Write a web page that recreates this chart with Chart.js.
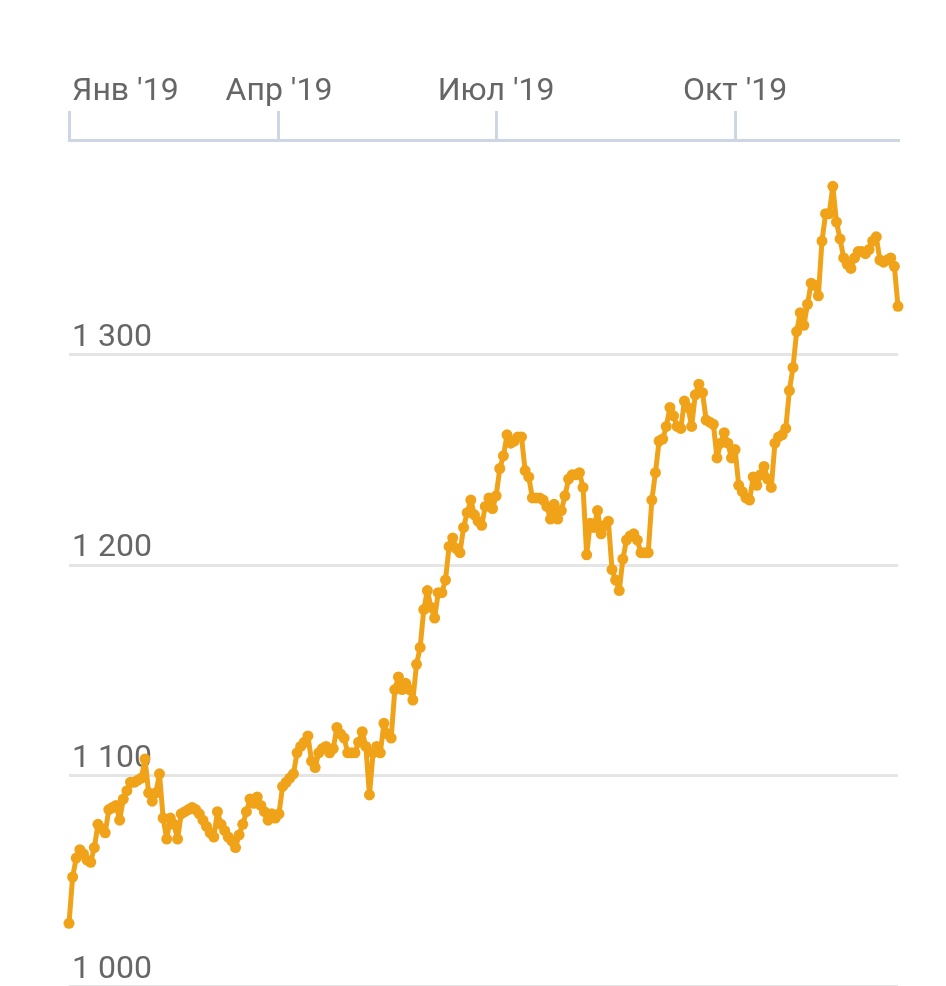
<!DOCTYPE html>
<html>
<head>
<meta charset="utf-8">
<script src="https://cdn.jsdelivr.net/npm/chart.js@4.4.1/dist/chart.umd.min.js"></script>
<style>
  html, body { margin: 0; padding: 0; background: #fff; overflow: hidden; }
  canvas { display: block; }
</style>
</head>
<body>
<canvas id="price-chart" width="946" height="992"></canvas>
<script>
// one value per trading day
const prices = [
  1030, 1052, 1061, 1065, 1063, 1060, 1059, 1066, 1077, 1075,
  1073, 1084, 1085, 1086, 1079, 1089, 1093, 1097, 1097, 1098,
  1099, 1108, 1092, 1088, 1092, 1101, 1080, 1070, 1080, 1077,
  1070, 1082, 1083, 1084, 1085, 1084, 1082, 1079, 1076, 1073,
  1071, 1083, 1077, 1074, 1071, 1069, 1066, 1072, 1077, 1083,
  1089, 1087, 1090, 1086, 1083, 1079, 1082, 1080, 1082, 1095,
  1097, 1099, 1101, 1111, 1114, 1116, 1119, 1107, 1104, 1111,
  1113, 1114, 1111, 1113, 1123, 1120, 1118, 1111, 1111, 1111,
  1116, 1121, 1114, 1091, 1111, 1114, 1111, 1125, 1120, 1118,
  1141, 1147, 1141, 1144, 1141, 1136, 1153, 1161, 1179, 1188,
  1180, 1175, 1187, 1187, 1193, 1209, 1213, 1208, 1206, 1218,
  1225, 1231, 1224, 1221, 1219, 1228, 1232, 1227, 1233, 1246,
  1252, 1262, 1258, 1259, 1261, 1261, 1245, 1242, 1232, 1232,
  1232, 1231, 1228, 1222, 1229, 1222, 1226, 1233, 1241, 1243,
  1243, 1244, 1237, 1205, 1220, 1218, 1226, 1215, 1219, 1221,
  1198, 1193, 1188, 1203, 1212, 1214, 1215, 1212, 1206, 1206,
  1206, 1231, 1244, 1259, 1260, 1266, 1275, 1271, 1266, 1265,
  1278, 1275, 1266, 1281, 1286, 1282, 1269, 1268, 1267, 1251,
  1258, 1263, 1258, 1251, 1255, 1238, 1235, 1232, 1231, 1242,
  1238, 1243, 1247, 1241, 1237, 1258, 1261, 1262, 1265, 1283,
  1294, 1311, 1320, 1314, 1324, 1334, 1333, 1328, 1354, 1367,
  1367, 1380, 1363, 1355, 1346, 1343, 1341, 1346, 1349, 1349,
  1348, 1350, 1354, 1356, 1345, 1344, 1345, 1346, 1342, 1323
];

// first trading day of each quarter (index into prices)
const monthIdx = [0, 58, 118, 184];
const monthLabels = ["Янв '19", "Апр '19", "Июл '19", "Окт '19"];

const yTicks = [1000, 1100, 1200, 1300];
const yMin = 1000, yMax = 1402;

const lineColor = '#f0a218';
const axisColor = '#cdd6e5';

function fmt(v){
  return String(v).replace(/\B(?=(\d{3})+(?!\d))/g, ' ');
}

// first month label sits to the right of its tick, not centred on it
const firstLabelLeft = {
  id: 'firstLabelLeft',
  beforeDraw(chart){
    const items = chart.scales.x.getLabelItems(chart.chartArea);
    if(items.length){
      items[0].options.textAlign = 'left';
      items[0].options.translation[0] += 3;
    }
  }
};

function init(){
  const ctx = document.getElementById('price-chart').getContext('2d');
  new Chart(ctx, {
    type: 'line',
    data: {
      datasets: [{
        data: prices.map((p, i) => ({x: i, y: p})),
        borderColor: lineColor,
        backgroundColor: lineColor,
        borderWidth: 5,
        borderJoinStyle: 'round',
        borderCapStyle: 'round',
        pointRadius: 5.5,
        pointBorderWidth: 0,
        pointHoverRadius: 5.5,
        tension: 0,
        clip: false
      }]
    },
    options: {
      responsive: false,
      animation: false,
      devicePixelRatio: 1,
      layout: {padding: {left: 63, right: 48, top: 72.6, bottom: 3}},
      plugins: {legend: {display: false}, tooltip: {enabled: false}},
      scales: {
        x: {
          type: 'linear',
          position: 'top',
          min: 0,
          max: prices.length - 1,
          afterBuildTicks: s => { s.ticks = monthIdx.map(v => ({value: v})); },
          afterFit: s => { s.paddingLeft = 0; s.paddingRight = 0; },
          grid: {drawOnChartArea: false, color: axisColor, lineWidth: 3, tickLength: 29},
          border: {color: axisColor, width: 3},
          ticks: {
            autoSkip: false,
            maxRotation: 0,
            padding: 0,
            color: '#666',
            font: {family: 'Roboto', size: 32},
            callback: (v, i) => monthLabels[i]
          }
        },
        y: {
          min: yMin,
          max: yMax,
          afterBuildTicks: s => { s.ticks = yTicks.map(v => ({value: v})); },
          afterFit: s => { s.paddingTop = 0; s.paddingBottom = 0; },
          grid: {color: '#e5e5e5', lineWidth: 3, drawTicks: false},
          border: {display: false},
          ticks: {
            mirror: true,
            padding: 3,
            labelOffset: -17,
            color: '#666',
            font: {family: 'Roboto', size: 32},
            callback: v => fmt(v)
          }
        }
      }
    },
    plugins: [firstLabelLeft]
  });
}

init();
</script>
</body>
</html>
